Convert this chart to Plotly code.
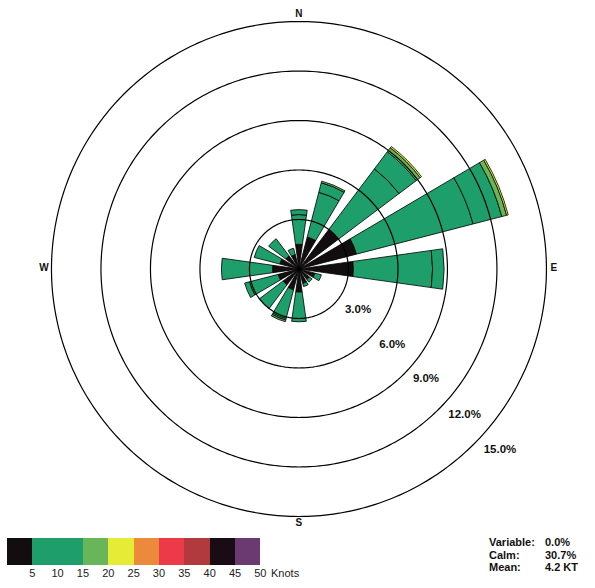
import numpy as np
import plotly.graph_objects as go

# Wind directions (16-point compass) and their bearings in degrees
directions = ["N", "NNE", "NE", "ENE", "E", "ESE", "SE", "SSE",
              "S", "SSW", "SW", "WSW", "W", "WNW", "NW", "NNW"]
bearings = [0, 22.5, 45, 67.5, 90, 112.5, 135, 157.5,
            180, 202.5, 225, 247.5, 270, 292.5, 315, 337.5]

# Frequency (%) of each speed class per direction
spd_0_5 = [1.5, 2.0, 3.0, 3.6, 3.3, 1.0, 0.8, 0.9, 1.4, 1.3, 1.2, 1.3, 1.6, 1.2, 1.0, 0.9]
spd_5_10 = [1.8, 2.8, 4.6, 7.3, 4.8, 0.4, 0.2, 0.2, 1.8, 1.8, 1.8, 1.8, 3.1, 1.6, 1.3, 0.4]
spd_10_15 = [0.3, 0.6, 1.3, 1.8, 0.7, 0, 0, 0, 0, 0.1, 0, 0.3, 0, 0, 0, 0]
spd_15_20 = [0, 0.1, 0.3, 0.3, 0, 0, 0, 0, 0, 0.1, 0, 0, 0, 0, 0, 0]
spd_20_25 = [0, 0, 0.1, 0.1, 0, 0, 0, 0, 0, 0, 0, 0, 0, 0, 0, 0]

speed_series = [spd_0_5, spd_5_10, spd_10_15, spd_15_20, spd_20_25]
speed_names = ["0-5", "5-10", "10-15", "15-20", "20-25"]

# Colour scale for speed classes (knots), 5-knot steps from 0 to 50
scale_starts = [0, 5, 10, 15, 20, 25, 30, 35, 40, 45]
scale_colors = ["#120d0f", "#1e9e6a", "#1e9e6a", "#68b55a", "#e6ec36",
                "#ec8a3c", "#ec3a48", "#b03a3e", "#1a0c14", "#6a3a70"]
scale_ticks = [5, 10, 15, 20, 25, 30, 35, 40, 45, 50]

# Rings of the rose (percent of observations)
ring_values = [3, 6, 9, 12, 15]
ring_labels = ["3.0%", "6.0%", "9.0%", "12.0%", "15.0%"]
ring_label_r = [3.75, 6.7, 9.6, 12.65, 15.7]
ring_label_theta = [132, 133.5, 134, 134.3, 134.5]
r_max = 15.8

compass_labels = ["N", "E", "S", "W"]
compass_theta = [0, 90, 180, 270]
compass_r = 15.45

# Summary statistics
stat_names = ["Variable:", "Calm:", "Mean:"]
stat_values = ["0.0%", "30.7%", "4.2 KT"]

FONT = "Liberation Sans, Arial, sans-serif"

fig = go.Figure()

for name, vals, col in zip(speed_names, speed_series, scale_colors):
    fig.add_trace(go.Barpolar(
        r=[v if v > 0 else None for v in vals],
        theta=bearings,
        width=16,
        name=name,
        marker=dict(color=col, line=dict(color="#000000", width=0.8)),
        showlegend=False,
        hoverinfo="skip",
    ))

# Concentric percentage rings drawn above the bars
ring_theta = np.linspace(0, 360, 361)
for rv in ring_values:
    fig.add_trace(go.Scatterpolar(
        r=[rv] * len(ring_theta), theta=ring_theta, mode="lines",
        line=dict(color="#000000", width=1.2),
        showlegend=False, hoverinfo="skip",
    ))

# Ring labels along the lower-right diagonal
fig.add_trace(go.Scatterpolar(
    r=ring_label_r, theta=ring_label_theta, mode="text",
    text=[f"<b>{t}</b>" for t in ring_labels], textposition="middle right",
    textfont=dict(family=FONT, size=11.5, color="#111111"),
    cliponaxis=False, showlegend=False, hoverinfo="skip",
))

# Compass point labels just outside the outer ring
fig.add_trace(go.Scatterpolar(
    r=[compass_r] * len(compass_labels), theta=compass_theta, mode="text",
    text=[f"<b>{t}</b>" for t in compass_labels], textposition="middle center",
    textfont=dict(family=FONT, size=10, color="#111111"),
    cliponaxis=False, showlegend=False, hoverinfo="skip",
))

# Speed colour scale drawn as a horizontal stacked bar
fig.add_trace(go.Bar(
    x=[5] * len(scale_starts), base=scale_starts, y=[0] * len(scale_starts),
    orientation="h", width=1,
    marker=dict(color=scale_colors, line=dict(width=0)),
    xaxis="x", yaxis="y", showlegend=False, hoverinfo="skip",
))

W, H = 595, 588
cx, cy = 302, 269
rad = 250 / 15 * r_max

fig.update_layout(
    width=W, height=H,
    margin=dict(l=0, r=0, t=0, b=0),
    paper_bgcolor="white",
    plot_bgcolor="white",
    font=dict(family=FONT, color="#111111"),
    polar=dict(
        domain=dict(x=[(cx - rad) / W, (cx + rad) / W],
                    y=[(H - cy - rad) / H, (H - cy + rad) / H]),
        bgcolor="rgba(0,0,0,0)",
        barmode="stack",
        radialaxis=dict(range=[0, r_max], showgrid=False, showline=False,
                        showticklabels=False, ticks=""),
        angularaxis=dict(direction="clockwise", rotation=90,
                         showticklabels=False, showgrid=False, ticks="",
                         showline=False),
    ),
    xaxis=dict(domain=[7 / W, 263 / W], range=[0, 50], anchor="y",
               tickvals=scale_ticks, ticktext=[str(t) for t in scale_ticks],
               ticks="", showgrid=False, zeroline=False, showline=False,
               tickfont=dict(family=FONT, size=11, color="#222222"),
               fixedrange=True),
    yaxis=dict(domain=[(H - 565) / H, (H - 538) / H], range=[-0.5, 0.5],
               visible=False, fixedrange=True),
    bargap=0,
)

fig.add_annotation(x=272 / W, y=(H - 573) / H, xref="paper", yref="paper",
                   text="Knots", showarrow=False, xanchor="left", yanchor="middle",
                   font=dict(family=FONT, size=11, color="#222222"))

row_y = [542, 554.5, 567]
for name, val, yy in zip(stat_names, stat_values, row_y):
    fig.add_annotation(x=492 / W, y=(H - yy) / H, xref="paper", yref="paper",
                       text=f"<b>{name}</b>", showarrow=False,
                       xanchor="left", yanchor="middle",
                       font=dict(family=FONT, size=11, color="#111111"))
    fig.add_annotation(x=549 / W, y=(H - yy) / H, xref="paper", yref="paper",
                       text=f"<b>{val}</b>", showarrow=False,
                       xanchor="left", yanchor="middle",
                       font=dict(family=FONT, size=11, color="#111111"))

fig.write_html("out.html")
